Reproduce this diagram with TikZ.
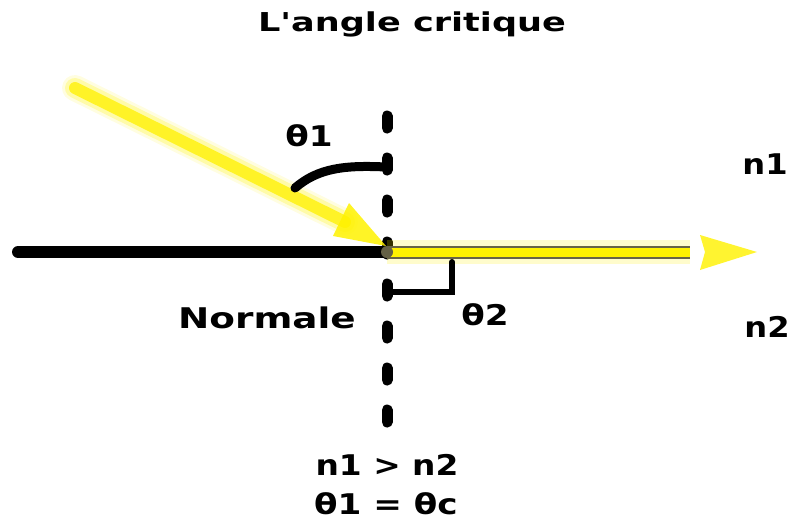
\documentclass[tikz,border=0pt]{standalone}
\usepackage{fontspec}
\newfontfamily\lblfont{DejaVu Sans}
\usetikzlibrary{arrows.meta}
\tikzset{
  lbl/.style={font=\lblfont\bfseries\fontsize{28.5}{32}\selectfont, inner sep=0pt, xscale=1.2},
  glow/.style={draw=yellow, line width=24pt, opacity=0.25, line cap=round},
}
\begin{document}
\begin{tikzpicture}[x=1pt,y=-1pt]
\useasboundingbox (0,0) rectangle (793,520);
% coordinates
\coordinate (O) at (387,252);
\coordinate (Lend) at (18,252);
\coordinate (Ntop) at (387,116);
\coordinate (Nbot) at (387,426);
\coordinate (Istart) at (75,88);
\coordinate (Ibody) at (345,222);
\coordinate (Itip) at (386,246);
\coordinate (Tbody) at (690,252);
\coordinate (Ttip) at (757,252);
% surface
\draw[line width=12pt, line cap=round] (Lend) -- (O);
% normal
\draw[line width=11pt, line cap=round, dash pattern=on 12pt off 30pt] (Ntop) -- (Nbot);
% incident ray
\draw[draw=yellow, line width=26pt, opacity=0.12, line cap=round] (Istart) -- (Ibody);
\draw[glow, line width=20pt] (Istart) -- (Ibody);
\draw[draw=yellow!90!white, line width=12pt, line cap=round, opacity=0.9] (Istart) -- (Ibody);
\fill[yellow, opacity=0.85] (Itip) -- (349,203) -- (333,236) -- cycle;
% theta1 arc
\draw[line width=9pt, line cap=round] (295,188) .. controls (318,168) and (345,165) .. (386,167);
% transmitted ray
\draw[draw=yellow, line width=24pt, opacity=0.2] (O) -- (Tbody);
\draw[draw=black!60!yellow!80!black, line width=13pt] (O) -- (Tbody);
\draw[draw=yellow, line width=9pt] (O) -- (Tbody);
\fill[yellow!90!white, opacity=0.9] (Ttip) -- (700,235) -- (705,252) -- (700,270) -- cycle;
\fill[black!70!yellow] (O) circle (6pt);
% right angle
\draw[line width=6pt, line cap=round, line join=miter] (390,292) -- (452,292) -- (452,262);
% labels
\node[lbl, font=\lblfont\bfseries\fontsize{26}{30}\selectfont, xscale=1.35/1.2] (title) at (412,24) {L'angle critique};
\node[lbl] (t1) at (309,136) {θ1};
\node[lbl] (t2) at (485,315) {θ2};
\node[lbl, xscale=0.94] (n1) at (765,164) {n1};
\node[lbl, xscale=0.94] (n2) at (767,327) {n2};
\node[lbl, xscale=1.31/1.2] (norm) at (267,318) {Normale};
\node[lbl, xscale=0.96] (ineq) at (387,465) {n1 > n2};
\node[lbl] (eq) at (386,504) {θ1 = θc};
\end{tikzpicture}
\end{document}
